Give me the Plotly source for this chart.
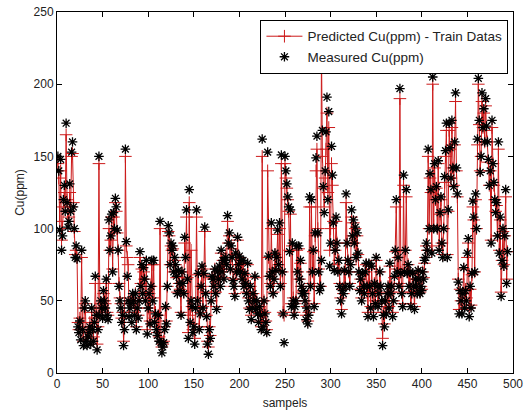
import plotly.graph_objects as go

measured = [
    150, 140, 99, 148, 85, 95, 120, 130, 112, 173,
    118, 101, 105, 131, 112, 153, 160, 115, 100, 80,
    88, 79, 32, 28, 36, 23, 85, 30, 19, 45,
    50, 22, 19, 25, 28, 32, 20, 45, 30, 22,
    35, 67, 40, 16, 30, 150, 40, 50, 45, 38,
    57, 50, 45, 65, 40, 37, 106, 85, 95, 110,
    70, 111, 100, 121, 115, 99, 85, 60, 50, 45,
    35, 40, 19, 30, 155, 91, 67, 50, 39, 45,
    48, 35, 55, 50, 40, 55, 30, 45, 38, 50,
    84, 60, 75, 55, 73, 65, 50, 78, 27, 45,
    55, 34, 60, 78, 50, 78, 35, 41, 30, 26,
    40, 22, 105, 21, 14, 18, 21, 30, 46, 34,
    60, 102, 97, 75, 90, 85, 88, 70, 80, 75,
    67, 55, 71, 62, 57, 40, 70, 62, 55, 94,
    80, 113, 65, 24, 127, 35, 50, 46, 28, 32,
    20, 45, 113, 50, 69, 30, 41, 60, 74, 45,
    69, 101, 55, 39, 20, 13, 30, 24, 50, 67,
    65, 60, 72, 55, 44, 70, 65, 74, 60, 85,
    70, 78, 65, 78, 80, 75, 109, 90, 97, 72,
    88, 80, 64, 60, 53, 83, 70, 94, 75, 81,
    70, 78, 65, 78, 60, 69, 62, 55, 76, 50,
    44, 60, 37, 45, 55, 50, 67, 44, 50, 41,
    35, 46, 40, 30, 162, 32, 50, 41, 35, 28,
    153, 81, 67, 60, 104, 70, 55, 65, 83, 71,
    80, 99, 75, 104, 60, 151, 70, 41, 21, 150,
    140, 131, 122, 115, 84, 113, 46, 90, 50, 40,
    46, 50, 88, 70, 88, 65, 78, 60, 55, 57,
    55, 50, 37, 45, 34, 40, 122, 60, 120, 70,
    85, 46, 97, 149, 164, 97, 70, 57, 60, 78,
    168, 129, 111, 140, 167, 191, 120, 181, 74, 90,
    157, 137, 104, 71, 85, 108, 90, 70, 78, 60,
    50, 41, 57, 55, 71, 60, 124, 90, 78, 70,
    60, 75, 113, 95, 106, 90, 101, 80, 97, 83,
    70, 57, 65, 50, 69, 60, 55, 70, 76, 60,
    39, 76, 60, 45, 74, 55, 39, 62, 48, 80,
    60, 46, 55, 70, 60, 50, 19, 40, 32, 50,
    41, 55, 60, 45, 76, 55, 60, 39, 50, 67,
    85, 120, 70, 80, 60, 197, 69, 55, 46, 137,
    70, 85, 127, 69, 75, 60, 70, 46, 55, 69,
    60, 44, 65, 60, 55, 71, 65, 55, 60, 57,
    70, 65, 78, 80, 90, 85, 155, 100, 138, 127,
    83, 205, 100, 145, 120, 129, 100, 147, 85, 111,
    122, 90, 80, 100, 136, 154, 173, 80, 113, 173,
    156, 135, 175, 142, 129, 160, 194, 142, 124, 63,
    41, 57, 50, 41, 55, 73, 45, 57, 50, 83,
    93, 39, 60, 45, 69, 119, 108, 70, 124, 100,
    162, 204, 175, 139, 150, 194, 170, 183, 160, 190,
    171, 160, 148, 130, 140, 90, 175, 145, 132, 120,
    111, 118, 95, 160, 83, 108, 53, 78, 100, 74,
    95, 127, 62, 84,
]

predicted = [
    145, 135, 105, 140, 92, 100, 115, 125, 118, 165,
    120, 105, 108, 125, 115, 150, 152, 118, 98, 82,
    85, 80, 35, 30, 38, 28, 80, 32, 22, 45,
    48, 25, 22, 28, 30, 35, 24, 42, 32, 25,
    38, 62, 42, 20, 32, 145, 42, 48, 45, 40,
    55, 50, 48, 62, 42, 40, 100, 85, 92, 108,
    72, 108, 100, 118, 112, 97, 85, 62, 52, 48,
    38, 42, 22, 35, 150, 88, 80, 75, 42, 48,
    50, 50, 52, 50, 42, 55, 32, 45, 40, 50,
    80, 62, 72, 56, 70, 65, 52, 75, 30, 45,
    55, 36, 60, 75, 52, 75, 38, 42, 32, 28,
    40, 25, 100, 22, 18, 20, 22, 32, 45, 36,
    60, 98, 95, 75, 88, 85, 86, 70, 78, 75,
    66, 56, 70, 62, 58, 42, 70, 62, 56, 90,
    80, 108, 66, 28, 118, 40, 85, 46, 30, 34,
    24, 45, 108, 52, 68, 32, 42, 60, 72, 46,
    68, 98, 56, 40, 22, 18, 32, 26, 50, 66,
    65, 60, 72, 56, 46, 70, 65, 72, 60, 83,
    70, 78, 66, 78, 80, 75, 105, 90, 95, 72,
    86, 80, 65, 60, 55, 82, 70, 92, 75, 80,
    70, 76, 65, 76, 60, 68, 62, 56, 75, 52,
    45, 60, 40, 46, 55, 50, 66, 45, 50, 42,
    36, 46, 42, 32, 150, 35, 50, 42, 36, 30,
    140, 80, 67, 62, 100, 70, 56, 65, 82, 72,
    80, 96, 75, 100, 62, 145, 70, 42, 40, 145,
    135, 128, 120, 112, 85, 110, 48, 88, 52, 42,
    48, 50, 85, 70, 86, 65, 76, 60, 56, 57,
    55, 50, 40, 46, 36, 42, 115, 62, 115, 70,
    84, 48, 95, 140, 155, 100, 72, 60, 60, 225,
    150, 128, 115, 135, 155, 180, 125, 170, 85, 100,
    145, 130, 105, 75, 85, 105, 90, 72, 78, 62,
    52, 44, 58, 55, 70, 62, 118, 90, 78, 70,
    62, 75, 108, 95, 104, 90, 100, 80, 95, 82,
    70, 58, 65, 52, 68, 60, 56, 70, 75, 60,
    42, 74, 60, 46, 72, 56, 42, 62, 50, 78,
    60, 48, 56, 70, 60, 50, 24, 42, 34, 50,
    42, 55, 60, 46, 74, 56, 60, 42, 50, 66,
    84, 115, 72, 80, 62, 190, 70, 56, 48, 130,
    72, 85, 122, 70, 75, 60, 70, 48, 56, 68,
    60, 46, 65, 60, 56, 70, 65, 56, 60, 58,
    70, 66, 76, 80, 88, 85, 150, 100, 135, 125,
    85, 200, 102, 142, 120, 128, 100, 145, 88, 110,
    120, 90, 82, 100, 132, 150, 168, 82, 112, 168,
    155, 135, 170, 142, 130, 158, 188, 140, 122, 65,
    44, 58, 50, 44, 55, 72, 47, 58, 52, 80,
    90, 45, 58, 47, 68, 115, 106, 70, 120, 100,
    158, 200, 172, 140, 150, 188, 170, 180, 160, 185,
    168, 160, 146, 130, 140, 92, 170, 145, 130, 120,
    112, 116, 95, 155, 85, 106, 56, 78, 98, 75,
    95, 122, 65, 84,
]

x_ticks = [0, 50, 100, 150, 200, 250, 300, 350, 400, 450, 500]
y_ticks = [0, 50, 100, 150, 200, 250]

x_pred = list(range(1, len(predicted) + 1))
x_meas = list(range(1, len(measured) + 1))

fig = go.Figure()
fig.add_trace(go.Scatter(
    x=x_pred, y=predicted, mode="lines+markers",
    name="Predicted Cu(ppm) - Train Datas",
    line=dict(color="#cc1a1a", width=1),
    marker=dict(symbol="cross-thin-open", size=9, color="#cc1a1a",
                line=dict(color="#cc1a1a", width=1)),
))
fig.add_trace(go.Scatter(
    x=x_meas, y=measured, mode="markers",
    name="Measured Cu(ppm)",
    marker=dict(symbol="asterisk-open", size=8, color="black",
                line=dict(color="black", width=1.3)),
))

axis_common = dict(
    showline=True, linecolor="black", linewidth=1, mirror="allticks",
    ticks="inside", ticklen=5, tickcolor="black", showgrid=False,
    zeroline=False, automargin=False,
    tickfont=dict(family="Liberation Sans", size=12, color="#222"),
)

fig.update_layout(
    width=525, height=413,
    margin=dict(l=57, r=12, t=12, b=40),
    paper_bgcolor="white", plot_bgcolor="white",
    font=dict(family="Liberation Sans", size=12, color="#222"),
    xaxis=dict(range=[0, 500], tickvals=x_ticks,
               title=dict(text="sampels", standoff=8, font=dict(size=12)), **axis_common),
    yaxis=dict(range=[0, 250], tickvals=y_ticks,
               title=dict(text="Cu(ppm)", standoff=6, font=dict(size=12)), **axis_common),
    legend=dict(x=0.99, y=0.978, xanchor="right", yanchor="top",
                bgcolor="white", bordercolor="black", borderwidth=1,
                font=dict(family="Liberation Sans", size=13.5, color="#222"),
                tracegroupgap=0, itemwidth=36),
    showlegend=True,
)

fig.write_html("out.html")
